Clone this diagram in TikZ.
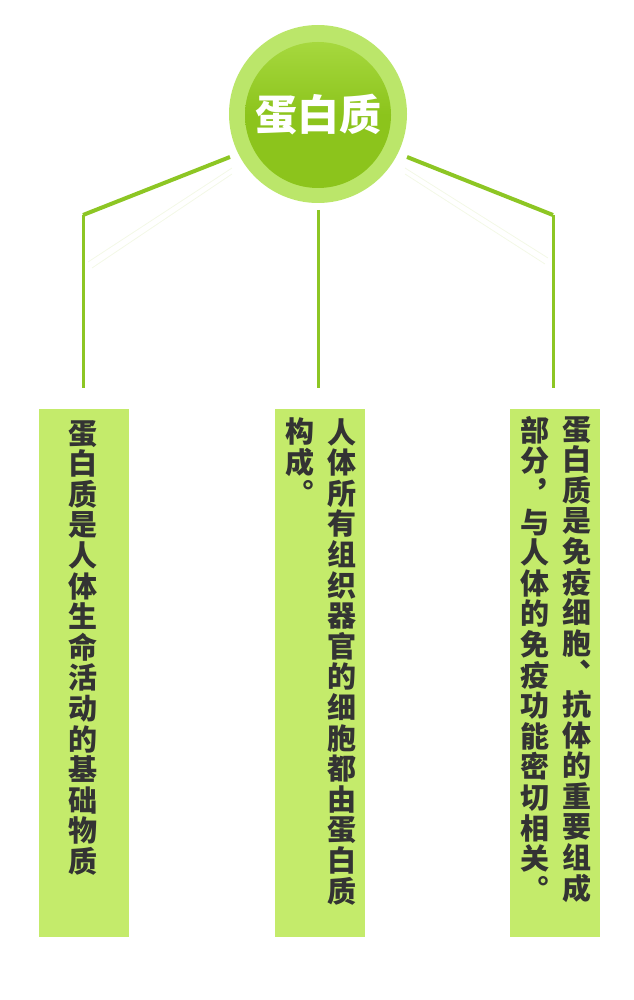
\documentclass[tikz,border=0pt]{standalone}
\usepackage{fontspec}
\usetikzlibrary{positioning,calc}
\newfontfamily\cjk{Noto Sans CJK SC}
\definecolor{ringgreen}{HTML}{BBE66A}
\definecolor{coregreen}{HTML}{8CC41C}
\definecolor{coretop}{HTML}{A6D83E}
\definecolor{linegreen}{HTML}{8DC624}
\definecolor{boxgreen}{HTML}{C4EB6B}
\definecolor{textgray}{HTML}{333333}
\definecolor{shadowgreen}{HTML}{F3F8E6}
% stack characters one under another
\def\vstack#1{\vbox{\baselineskip=30.6pt\lineskiplimit=-\maxdimen\vstackA#1\relax}}
\def\vstackA#1{\ifx\relax#1\else\hbox to 30.6pt{\hss#1\hss}\expandafter\vstackA\fi}
\tikzset{
  link/.style={line width=3pt, linegreen},
  slant/.style={line width=4pt, linegreen},
  shadowline/.style={line width=0.8pt, shadowgreen},
  card/.style={fill=boxgreen, draw=none, minimum width=90pt, minimum height=528pt, inner sep=0pt},
  coltext/.style={inner sep=0pt, font=\cjk\bfseries\fontsize{29}{29}\selectfont, text=textgray, anchor=north},
}
\begin{document}
\begin{tikzpicture}[x=1pt, y=-1pt]
  % Fixed bounding box (image size in px)
  \path[use as bounding box] (0,0) rectangle (633,1000);

  % ---- Title circle ----
  \fill[ringgreen] (318,114) circle (89);
  \shade[top color=coretop, bottom color=coregreen, middle color=coregreen] (318,115) circle (73);
  \node[inner sep=0pt, font=\cjk\bfseries\fontsize{42}{42}\selectfont, text=white] (title) at (318,115) {蛋白质};

  % ---- Connector ends ----
  \coordinate (lstart) at (230,157);
  \coordinate (lbend)  at (83,215);
  \coordinate (lend)   at (83,388);
  \coordinate (mstart) at (318,210);
  \coordinate (mend)   at (318,388);
  \coordinate (rstart) at (407,157);
  \coordinate (rbend)  at (553,215);
  \coordinate (rend)   at (553,388);

  % faint shadows under the slanted lines
  \draw[shadowline] (232,168) -- (88,262);
  \draw[shadowline] (232,174) -- (92,268);
  \draw[shadowline] (405,168) -- (548,258);
  \draw[shadowline] (405,174) -- (545,264);

  % ---- Connectors ----
  \draw[slant] (lstart) -- (lbend);
  \draw[link] (lbend) -- (lend);
  \draw[link] (mstart) -- (mend);
  \draw[slant] (rstart) -- (rbend);
  \draw[link] (rbend) -- (rend);

  % ---- Cards ----
  \node[card, anchor=north west] (cardA) at (39,409) {};
  \node[card, anchor=north west] (cardB) at (275,409) {};
  \node[card, anchor=north west] (cardC) at (510,409) {};

  % ---- Vertical texts (right to left) ----
  \node[coltext] (a1) at (83,420) {\vstack{蛋白质是人体生命活动的基础物质}};
  \node[coltext] (b1) at (342,418) {\vstack{人体所有组织器官的细胞都由蛋白质}};
  \node[coltext] (b2) at (300,418) {\vstack{构成︒}};
  \node[coltext] (c1) at (577,416) {\vstack{蛋白质是免疫细胞︑抗体的重要组成}};
  \node[coltext] (c2) at (535,416) {\vstack{部分︐与人体的免疫功能密切相关︒}};
\end{tikzpicture}
\end{document}
